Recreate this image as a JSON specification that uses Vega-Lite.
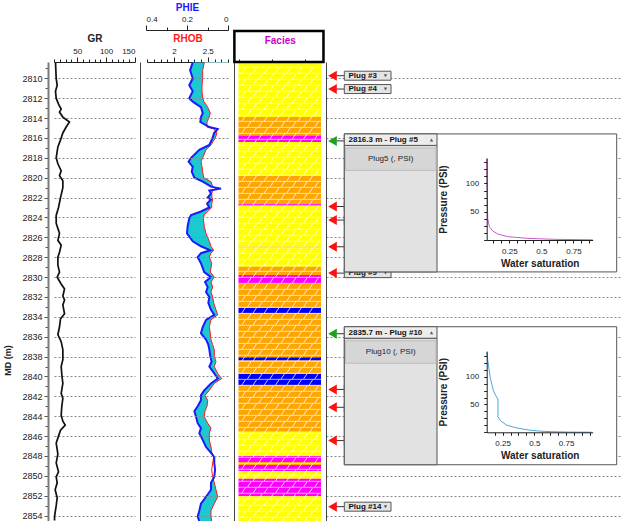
{
  "$schema": "https://vega.github.io/schema/vega-lite/v6.json",
  "background": "white",
  "padding": {"left": 3, "top": 2, "right": 0, "bottom": 0},
  "spacing": 0,
  "bounds": "flush",
  "resolve": {"scale": {"x": "independent", "y": "independent", "color": "independent"}},
  "config": {
    "view": {"stroke": null},
    "font": "Liberation Sans",
    "axis": {"labelFont": "Liberation Sans", "titleFont": "Liberation Sans", "labelColor": "#222", "titleColor": "#222", "domainColor": "#222", "tickColor": "#222", "labelFontSize": 8, "titleFontSize": 10, "titleFontWeight": "bold", "grid": false}
  },
  "datasets": {
    "gr": [
      {"depth": 2808.4, "gr": 12.6}, {"depth": 2810.0, "gr": 13.8}, {"depth": 2810.7, "gr": 15.5}, {"depth": 2811.3, "gr": 12.6},
      {"depth": 2812.0, "gr": 13.8}, {"depth": 2812.6, "gr": 17.8}, {"depth": 2813.1, "gr": 22.4}, {"depth": 2813.4, "gr": 19.5},
      {"depth": 2813.9, "gr": 25.3}, {"depth": 2814.4, "gr": 36.7}, {"depth": 2814.9, "gr": 31.0}, {"depth": 2815.5, "gr": 25.3},
      {"depth": 2816.2, "gr": 21.3}, {"depth": 2816.9, "gr": 16.7}, {"depth": 2818.0, "gr": 13.8}, {"depth": 2818.6, "gr": 16.7},
      {"depth": 2819.3, "gr": 22.4}, {"depth": 2819.8, "gr": 19.5}, {"depth": 2820.3, "gr": 25.3}, {"depth": 2821.0, "gr": 25.3},
      {"depth": 2822.0, "gr": 21.3}, {"depth": 2823.0, "gr": 17.8}, {"depth": 2823.8, "gr": 13.8}, {"depth": 2824.6, "gr": 13.8},
      {"depth": 2825.3, "gr": 17.8}, {"depth": 2825.6, "gr": 19.5}, {"depth": 2826.3, "gr": 16.7}, {"depth": 2826.8, "gr": 22.4},
      {"depth": 2827.5, "gr": 19.5}, {"depth": 2828.0, "gr": 16.7}, {"depth": 2828.8, "gr": 16.7}, {"depth": 2829.5, "gr": 19.5},
      {"depth": 2830.0, "gr": 15.5}, {"depth": 2830.7, "gr": 22.4}, {"depth": 2831.2, "gr": 28.2}, {"depth": 2831.9, "gr": 25.3},
      {"depth": 2832.3, "gr": 28.2}, {"depth": 2832.8, "gr": 25.3}, {"depth": 2833.7, "gr": 28.2}, {"depth": 2834.2, "gr": 21.3},
      {"depth": 2835.0, "gr": 19.5}, {"depth": 2835.8, "gr": 16.7}, {"depth": 2836.5, "gr": 22.4}, {"depth": 2837.3, "gr": 25.3},
      {"depth": 2838.3, "gr": 25.3}, {"depth": 2839.0, "gr": 22.4}, {"depth": 2839.8, "gr": 23.5}, {"depth": 2840.7, "gr": 25.3},
      {"depth": 2841.7, "gr": 22.4}, {"depth": 2842.2, "gr": 25.3}, {"depth": 2843.0, "gr": 23.5}, {"depth": 2843.9, "gr": 22.4},
      {"depth": 2844.5, "gr": 25.3}, {"depth": 2844.9, "gr": 29.4}, {"depth": 2845.4, "gr": 21.3}, {"depth": 2846.0, "gr": 17.8},
      {"depth": 2846.7, "gr": 13.8}, {"depth": 2847.8, "gr": 16.7}, {"depth": 2848.7, "gr": 13.8}, {"depth": 2849.6, "gr": 17.8},
      {"depth": 2850.1, "gr": 13.8}, {"depth": 2850.7, "gr": 15.5}, {"depth": 2851.4, "gr": 12.0}, {"depth": 2852.2, "gr": 15.5},
      {"depth": 2853.0, "gr": 13.8}, {"depth": 2854.1, "gr": 10.9}, {"depth": 2854.5, "gr": 11.0}
    ],
    "logs": [
      {"depth": 2808.4, "rhob": 2.449, "phie": 0.172}, {"depth": 2809.2, "rhob": 2.425, "phie": 0.185}, {"depth": 2810.0, "rhob": 2.425, "phie": 0.172},
      {"depth": 2810.7, "rhob": 2.415, "phie": 0.189}, {"depth": 2811.3, "rhob": 2.415, "phie": 0.172}, {"depth": 2812.0, "rhob": 2.425, "phie": 0.189},
      {"depth": 2812.35, "rhob": 2.444, "phie": 0.172}, {"depth": 2812.9, "rhob": 2.499, "phie": 0.132}, {"depth": 2813.5, "rhob": 2.538, "phie": 0.123},
      {"depth": 2813.9, "rhob": 2.523, "phie": 0.132}, {"depth": 2814.4, "rhob": 2.489, "phie": 0.135}, {"depth": 2814.9, "rhob": 2.489, "phie": 0.091},
      {"depth": 2815.1, "rhob": 2.593, "phie": 0.05}, {"depth": 2815.5, "rhob": 2.637, "phie": 0.068}, {"depth": 2816.0, "rhob": 2.612, "phie": 0.075},
      {"depth": 2816.7, "rhob": 2.548, "phie": 0.091}, {"depth": 2817.2, "rhob": 2.474, "phie": 0.14}, {"depth": 2818.0, "rhob": 2.425, "phie": 0.18},
      {"depth": 2818.4, "rhob": 2.4, "phie": 0.192}, {"depth": 2818.9, "rhob": 2.415, "phie": 0.172}, {"depth": 2819.4, "rhob": 2.425, "phie": 0.177},
      {"depth": 2820.0, "rhob": 2.44, "phie": 0.164}, {"depth": 2820.4, "rhob": 2.548, "phie": 0.123}, {"depth": 2820.9, "rhob": 2.573, "phie": 0.083},
      {"depth": 2821.1, "rhob": 2.622, "phie": 0.034}, {"depth": 2821.3, "rhob": 2.573, "phie": 0.091}, {"depth": 2821.6, "rhob": 2.559, "phie": 0.083},
      {"depth": 2822.0, "rhob": 2.563, "phie": 0.099}, {"depth": 2822.2, "rhob": 2.573, "phie": 0.083}, {"depth": 2822.6, "rhob": 2.559, "phie": 0.102},
      {"depth": 2823.0, "rhob": 2.559, "phie": 0.091}, {"depth": 2823.4, "rhob": 2.499, "phie": 0.132}, {"depth": 2823.75, "rhob": 2.449, "phie": 0.18},
      {"depth": 2824.1, "rhob": 2.434, "phie": 0.189}, {"depth": 2824.9, "rhob": 2.449, "phie": 0.197}, {"depth": 2825.6, "rhob": 2.474, "phie": 0.2},
      {"depth": 2826.4, "rhob": 2.523, "phie": 0.172}, {"depth": 2826.9, "rhob": 2.548, "phie": 0.132}, {"depth": 2827.3, "rhob": 2.588, "phie": 0.086},
      {"depth": 2827.6, "rhob": 2.548, "phie": 0.132}, {"depth": 2828.0, "rhob": 2.523, "phie": 0.148}, {"depth": 2828.6, "rhob": 2.559, "phie": 0.132},
      {"depth": 2829.5, "rhob": 2.538, "phie": 0.116}, {"depth": 2830.0, "rhob": 2.597, "phie": 0.083}, {"depth": 2830.5, "rhob": 2.548, "phie": 0.112},
      {"depth": 2831.0, "rhob": 2.573, "phie": 0.099}, {"depth": 2831.5, "rhob": 2.548, "phie": 0.107}, {"depth": 2832.0, "rhob": 2.573, "phie": 0.091},
      {"depth": 2832.6, "rhob": 2.588, "phie": 0.096}, {"depth": 2833.3, "rhob": 2.622, "phie": 0.083}, {"depth": 2833.8, "rhob": 2.647, "phie": 0.067},
      {"depth": 2834.3, "rhob": 2.548, "phie": 0.107}, {"depth": 2835.0, "rhob": 2.523, "phie": 0.123}, {"depth": 2835.65, "rhob": 2.538, "phie": 0.132},
      {"depth": 2836.3, "rhob": 2.548, "phie": 0.107}, {"depth": 2836.8, "rhob": 2.573, "phie": 0.096}, {"depth": 2837.3, "rhob": 2.597, "phie": 0.091},
      {"depth": 2838.0, "rhob": 2.597, "phie": 0.086}, {"depth": 2838.5, "rhob": 2.622, "phie": 0.08}, {"depth": 2839.0, "rhob": 2.597, "phie": 0.091},
      {"depth": 2839.7, "rhob": 2.647, "phie": 0.067}, {"depth": 2840.2, "rhob": 2.707, "phie": 0.05}, {"depth": 2840.7, "rhob": 2.597, "phie": 0.083},
      {"depth": 2841.4, "rhob": 2.523, "phie": 0.116}, {"depth": 2841.9, "rhob": 2.459, "phie": 0.132}, {"depth": 2842.4, "rhob": 2.499, "phie": 0.132},
      {"depth": 2843.0, "rhob": 2.489, "phie": 0.148}, {"depth": 2843.5, "rhob": 2.459, "phie": 0.164}, {"depth": 2844.05, "rhob": 2.449, "phie": 0.156},
      {"depth": 2844.7, "rhob": 2.499, "phie": 0.148}, {"depth": 2845.2, "rhob": 2.548, "phie": 0.132}, {"depth": 2845.7, "rhob": 2.523, "phie": 0.14},
      {"depth": 2846.4, "rhob": 2.523, "phie": 0.123}, {"depth": 2847.1, "rhob": 2.548, "phie": 0.107}, {"depth": 2847.6, "rhob": 2.559, "phie": 0.086},
      {"depth": 2848.1, "rhob": 2.588, "phie": 0.067}, {"depth": 2848.7, "rhob": 2.573, "phie": 0.067}, {"depth": 2849.4, "rhob": 2.559, "phie": 0.063},
      {"depth": 2850.1, "rhob": 2.573, "phie": 0.067}, {"depth": 2850.7, "rhob": 2.597, "phie": 0.083}, {"depth": 2851.4, "rhob": 2.622, "phie": 0.083},
      {"depth": 2852.1, "rhob": 2.647, "phie": 0.107}, {"depth": 2852.8, "rhob": 2.597, "phie": 0.132}, {"depth": 2853.5, "rhob": 2.548, "phie": 0.14},
      {"depth": 2854.1, "rhob": 2.548, "phie": 0.148}, {"depth": 2854.54, "rhob": 2.559, "phie": 0.14}
    ],
    "facies": [
      {"top": 2808.36, "bottom": 2813.9, "facies": "F1"}, {"top": 2813.9, "bottom": 2815.75, "facies": "F2"},
      {"top": 2815.75, "bottom": 2816.4, "facies": "F3"}, {"top": 2816.4, "bottom": 2819.8, "facies": "F1"},
      {"top": 2819.8, "bottom": 2822.65, "facies": "F2"}, {"top": 2822.65, "bottom": 2822.85, "facies": "F3"},
      {"top": 2822.85, "bottom": 2826.95, "facies": "F1"}, {"top": 2826.95, "bottom": 2827.1, "facies": "F2"},
      {"top": 2827.1, "bottom": 2828.95, "facies": "F1"}, {"top": 2828.95, "bottom": 2829.8, "facies": "F2"},
      {"top": 2829.8, "bottom": 2830.7, "facies": "F3"}, {"top": 2830.7, "bottom": 2833.1, "facies": "F2"},
      {"top": 2833.1, "bottom": 2833.65, "facies": "F4"}, {"top": 2833.65, "bottom": 2838.1, "facies": "F2"},
      {"top": 2838.1, "bottom": 2838.4, "facies": "F4"}, {"top": 2838.4, "bottom": 2839.75, "facies": "F2"},
      {"top": 2839.75, "bottom": 2840.85, "facies": "F4"}, {"top": 2840.85, "bottom": 2845.55, "facies": "F2"},
      {"top": 2845.55, "bottom": 2848.0, "facies": "F1"}, {"top": 2848.0, "bottom": 2848.6, "facies": "F3"},
      {"top": 2848.6, "bottom": 2848.9, "facies": "F2"}, {"top": 2848.9, "bottom": 2849.5, "facies": "F3"},
      {"top": 2849.5, "bottom": 2850.3, "facies": "F1"}, {"top": 2850.3, "bottom": 2852.05, "facies": "F3"},
      {"top": 2852.05, "bottom": 2854.54, "facies": "F1"}
    ],
    "bricks": [
      {"k": 0, "b": 2808.9}, {"k": 1, "b": 2809.5}, {"k": 2, "b": 2810.11}, {"k": 3, "b": 2810.71}, {"k": 4, "b": 2811.31},
      {"k": 5, "b": 2811.92}, {"k": 6, "b": 2812.52}, {"k": 7, "b": 2813.13}, {"k": 8, "b": 2813.73}, {"k": 9, "b": 2814.33},
      {"k": 10, "b": 2814.94}, {"k": 11, "b": 2815.54}, {"k": 12, "b": 2816.14}, {"k": 13, "b": 2816.75}, {"k": 14, "b": 2817.35},
      {"k": 15, "b": 2817.95}, {"k": 16, "b": 2818.56}, {"k": 17, "b": 2819.16}, {"k": 18, "b": 2819.76}, {"k": 19, "b": 2820.37},
      {"k": 20, "b": 2820.97}, {"k": 21, "b": 2821.58}, {"k": 22, "b": 2822.18}, {"k": 23, "b": 2822.78}, {"k": 24, "b": 2823.39},
      {"k": 25, "b": 2823.99}, {"k": 26, "b": 2824.59}, {"k": 27, "b": 2825.2}, {"k": 28, "b": 2825.8}, {"k": 29, "b": 2826.4},
      {"k": 30, "b": 2827.01}, {"k": 31, "b": 2827.61}, {"k": 32, "b": 2828.22}, {"k": 33, "b": 2828.82}, {"k": 34, "b": 2829.42},
      {"k": 35, "b": 2830.03}, {"k": 36, "b": 2830.63}, {"k": 37, "b": 2831.23}, {"k": 38, "b": 2831.84}, {"k": 39, "b": 2832.44},
      {"k": 40, "b": 2833.04}, {"k": 41, "b": 2833.65}, {"k": 42, "b": 2834.25}, {"k": 43, "b": 2834.85}, {"k": 44, "b": 2835.46},
      {"k": 45, "b": 2836.06}, {"k": 46, "b": 2836.67}, {"k": 47, "b": 2837.27}, {"k": 48, "b": 2837.87}, {"k": 49, "b": 2838.48},
      {"k": 50, "b": 2839.08}, {"k": 51, "b": 2839.68}, {"k": 52, "b": 2840.29}, {"k": 53, "b": 2840.89}, {"k": 54, "b": 2841.49},
      {"k": 55, "b": 2842.1}, {"k": 56, "b": 2842.7}, {"k": 57, "b": 2843.31}, {"k": 58, "b": 2843.91}, {"k": 59, "b": 2844.51},
      {"k": 60, "b": 2845.12}, {"k": 61, "b": 2845.72}, {"k": 62, "b": 2846.32}, {"k": 63, "b": 2846.93}, {"k": 64, "b": 2847.53},
      {"k": 65, "b": 2848.13}, {"k": 66, "b": 2848.74}, {"k": 67, "b": 2849.34}, {"k": 68, "b": 2849.94}, {"k": 69, "b": 2850.55},
      {"k": 70, "b": 2851.15}, {"k": 71, "b": 2851.75}, {"k": 72, "b": 2852.36}, {"k": 73, "b": 2852.96}, {"k": 74, "b": 2853.57},
      {"k": 75, "b": 2854.17}
    ],
    "plugs": [
      {"plug": "Plug #3", "depth": 2809.74, "state": "collapsed"},
      {"plug": "Plug #4", "depth": 2811.08, "state": "collapsed"},
      {"plug": "Plug #5", "depth": 2816.3, "state": "expanded", "header": "2816.3 m - Plug #5", "button": "Plug5 (, PSI)"},
      {"plug": "Plug #6", "depth": 2822.9, "state": "collapsed"},
      {"plug": "Plug #7", "depth": 2824.26, "state": "collapsed"},
      {"plug": "Plug #8", "depth": 2826.95, "state": "collapsed"},
      {"plug": "Plug #9", "depth": 2829.6, "state": "collapsed"},
      {"plug": "Plug #10", "depth": 2835.7, "state": "expanded", "header": "2835.7 m - Plug #10", "button": "Plug10 (, PSI)"},
      {"plug": "Plug #11", "depth": 2841.3, "state": "collapsed"},
      {"plug": "Plug #12", "depth": 2843.1, "state": "collapsed"},
      {"plug": "Plug #13", "depth": 2846.45, "state": "collapsed"},
      {"plug": "Plug #14", "depth": 2853.1, "state": "collapsed"}
    ],
    "pc5": [
      {"sw": 0.073, "p": 144}, {"sw": 0.073, "p": 129}, {"sw": 0.075, "p": 100}, {"sw": 0.078, "p": 70}, {"sw": 0.081, "p": 38},
      {"sw": 0.094, "p": 23.5}, {"sw": 0.12, "p": 15.9}, {"sw": 0.16, "p": 10.6}, {"sw": 0.237, "p": 5.9}, {"sw": 0.394, "p": 2.9},
      {"sw": 0.6, "p": 1.2}, {"sw": 0.9, "p": 0.3}
    ],
    "pc10": [
      {"sw": 0.125, "p": 144}, {"sw": 0.152, "p": 99}, {"sw": 0.177, "p": 75.5}, {"sw": 0.195, "p": 66.6}, {"sw": 0.214, "p": 59},
      {"sw": 0.214, "p": 27.9}, {"sw": 0.234, "p": 20.7}, {"sw": 0.281, "p": 13}, {"sw": 0.326, "p": 10}, {"sw": 0.378, "p": 7.1},
      {"sw": 0.456, "p": 4.1}, {"sw": 0.534, "p": 2.3}, {"sw": 0.638, "p": 1.1}, {"sw": 0.769, "p": 0.4}, {"sw": 0.95, "p": 0.2}
    ]
  },
  "hconcat": [
    {
      "width": 92, "height": 459,
      "data": {"name": "gr"},
      "mark": {"type": "line", "color": "#111111", "strokeWidth": 1.7},
      "encoding": {
        "y": {"field": "depth", "type": "quantitative",
          "scale": {"domain": [2808.36, 2854.54], "reverse": true, "nice": false, "zero": false},
          "axis": {"orient": "left", "title": "MD (m)", "titleFontSize": 9, "titlePadding": 9, "titleY": 298,
            "values": [2809,2810,2811,2812,2813,2814,2815,2816,2817,2818,2819,2820,2821,2822,2823,2824,2825,2826,2827,2828,2829,2830,2831,2832,2833,2834,2835,2836,2837,2838,2839,2840,2841,2842,2843,2844,2845,2846,2847,2848,2849,2850,2851,2852,2853,2854],
            "labelExpr": "datum.value % 2 == 0 ? datum.label : ''", "format": "d", "labelFontSize": 9,
            "tickSize": {"condition": {"test": "datum.value % 2 == 0", "value": 4}, "value": 3},
            "tickColor": "#555", "domainColor": "#7a7a7a", "domainWidth": 2,
            "grid": true, "gridOpacity": {"condition": {"test": "datum.value % 2 == 0", "value": 1}, "value": 0},
            "gridDash": [2, 2], "gridColor": "#8a8a8a"}},
        "x": {"field": "gr", "type": "quantitative",
          "scale": {"domain": [10, 150], "range": [6, 87], "nice": false, "zero": false},
          "axis": {"orient": "top", "title": "GR", "values": [10,20,30,40,50,60,70,80,90,100,110,120,130,140,150],
            "labelExpr": "datum.value % 50 == 0 ? datum.label : ''",
            "tickSize": {"condition": {"test": "datum.value % 50 == 0", "value": 5}, "value": 3}, "titlePadding": 4}},
        "order": {"field": "depth", "type": "quantitative"}
      }
    },
    {
      "width": 94, "height": 459,
      "data": {"name": "logs"},
      "resolve": {"scale": {"x": "independent"}},
      "encoding": {
        "y": {"field": "depth", "type": "quantitative",
          "scale": {"domain": [2808.36, 2854.54], "reverse": true, "nice": false, "zero": false},
          "axis": {"title": null, "labels": false, "ticks": false, "domainColor": "#444", "zindex": 1, "grid": true,
            "values": [2810,2812,2814,2816,2818,2820,2822,2824,2826,2828,2830,2832,2834,2836,2838,2840,2842,2844,2846,2848,2850,2852,2854],
            "gridDash": [2, 2], "gridColor": "#8a8a8a"}}
      },
      "layer": [
        {
          "mark": {"type": "area", "orient": "horizontal", "color": "#1cc9d1"},
          "encoding": {
            "x": {"field": "phie", "type": "quantitative", "scale": {"domain": [0, 0.4], "reverse": true, "range": [6, 88], "nice": false, "zero": false}, "axis": null},
            "x2": {"datum": 0}
          }
        },
        {
          "mark": {"type": "area", "orient": "horizontal", "color": "#ffffff"},
          "encoding": {
            "x": {"field": "rhob", "type": "quantitative", "scale": {"domain": [1.6, 2.8], "range": [7, 88], "nice": false, "zero": false}, "axis": null},
            "x2": {"datum": 2.8}
          }
        },
        {
          "mark": {"type": "line", "color": "#ff1a1a", "strokeWidth": 1},
          "encoding": {
            "x": {"field": "rhob", "type": "quantitative", "scale": {"domain": [1.6, 2.8], "range": [7, 88], "nice": false, "zero": false},
              "axis": {"orient": "top", "title": "RHOB", "titleColor": "#ff1a1a", "values": [1.6,1.7,1.8,1.9,2,2.1,2.2,2.3,2.4,2.5,2.6,2.7,2.8],
                "format": "~g", "labelExpr": "datum.value == 2 || datum.value == 2.5 ? datum.label : ''",
                "tickSize": {"condition": {"test": "datum.value == 2 || datum.value == 2.5", "value": 5}, "value": 3}, "titlePadding": 4}},
            "order": {"field": "depth", "type": "quantitative"}
          }
        },
        {
          "mark": {"type": "line", "color": "#1a1aff", "strokeWidth": 2},
          "encoding": {
            "x": {"field": "phie", "type": "quantitative", "scale": {"domain": [0, 0.4], "reverse": true, "range": [6, 88], "nice": false, "zero": false},
              "axis": {"orient": "top", "offset": 32, "title": "PHIE", "titleColor": "#1a1aff", "values": [0, 0.1, 0.2, 0.3, 0.4],
                "format": "~g", "labelExpr": "datum.value == 0 || datum.value == 0.2 || datum.value == 0.4 ? datum.label : ''",
                "tickSize": {"condition": {"test": "datum.value == 0 || datum.value == 0.2 || datum.value == 0.4", "value": 5}, "value": 3}, "titlePadding": 3}},
            "order": {"field": "depth", "type": "quantitative"}
          }
        }
      ]
    },
    {
      "width": 92, "height": 459,
      "layer": [
        {
          "data": {"name": "facies"},
          "mark": {"type": "rect"},
          "encoding": {
            "y": {"field": "top", "type": "quantitative",
              "scale": {"domain": [2808.36, 2854.54], "reverse": true, "nice": false, "zero": false},
              "axis": {"title": null, "labels": false, "ticks": false, "domainColor": "#444", "grid": true,
                "values": [2810,2812,2814,2816,2818,2820,2822,2824,2826,2828,2830,2832,2834,2836,2838,2840,2842,2844,2846,2848,2850,2852,2854],
                "gridDash": [2, 2], "gridColor": "#8a8a8a"}},
            "y2": {"field": "bottom"},
            "x": {"datum": 31, "type": "quantitative", "scale": {"domain": [31, 36], "range": [4.5, 87], "nice": false, "zero": false},
              "axis": {"orient": "top", "title": "Facies", "titleColor": "#cc00cc", "values": [31,31.5,32,32.5,33,33.5,34,34.5,35,35.5,36],
                "labelExpr": "datum.value % 2 == 0 ? datum.label : ''",
                "tickSize": {"condition": {"test": "datum.value % 2 == 0", "value": 5}, "value": 3}, "titlePadding": 4}},
            "x2": {"datum": 36},
            "color": {"field": "facies", "type": "nominal", "scale": {"domain": ["F1", "F2", "F3", "F4"], "range": ["#ffff00", "#ffa500", "#ff00ff", "#0000ff"]}, "legend": null}
          }
        },
        {
          "data": {"name": "bricks"},
          "mark": {"type": "rule", "stroke": "#ffffff", "strokeWidth": 0.9, "opacity": 0.75},
          "encoding": {
            "y": {"field": "b", "type": "quantitative", "scale": {"domain": [2808.36, 2854.54], "reverse": true, "nice": false, "zero": false}},
            "x": {"datum": 31, "type": "quantitative"},
            "x2": {"datum": 36}
          }
        },
        {
          "data": {"name": "bricks"},
          "mark": {"type": "point", "filled": false, "stroke": "#ffffff", "strokeWidth": 0.9, "opacity": 0.85, "size": 6806, "yOffset": 3},
          "encoding": {
            "y": {"field": "b", "type": "quantitative", "scale": {"domain": [2808.36, 2854.54], "reverse": true, "nice": false, "zero": false}},
            "x": {"datum": 33.5, "type": "quantitative"},
            "shape": {"condition": {"test": "datum.k % 2 == 0", "value": "M-0.92,0.068L-0.83,-0.068M-0.648,0.068L-0.558,-0.068M-0.376,0.068L-0.286,-0.068M-0.104,0.068L-0.014,-0.068M0.168,0.068L0.258,-0.068M0.44,0.068L0.53,-0.068M0.712,0.068L0.802,-0.068"},
              "value": "M-0.784,0.068L-0.694,-0.068M-0.512,0.068L-0.422,-0.068M-0.24,0.068L-0.15,-0.068M0.032,0.068L0.122,-0.068M0.304,0.068L0.394,-0.068M0.576,0.068L0.666,-0.068M0.848,0.068L0.938,-0.068"}
          }
        },
        {
          "data": {"values": [{}]},
          "mark": {"type": "rect", "fill": "#ffffff", "fillOpacity": 0, "stroke": "#000000", "strokeWidth": 2.5, "clip": false},
          "encoding": {
            "x": {"datum": 30.75, "type": "quantitative"},
            "x2": {"datum": 36.15},
            "y": {"datum": 2805.25, "type": "quantitative", "scale": {"domain": [2808.36, 2854.54], "reverse": true, "nice": false, "zero": false}},
            "y2": {"datum": 2808.36}
          }
        }
      ]
    },
    {
      "width": 296, "height": 459,
      "resolve": {"scale": {"x": "independent", "y": "independent"}},
      "layer": [
        {
          "data": {"name": "plugs"},
          "encoding": {
            "y": {"field": "depth", "type": "quantitative",
              "scale": {"domain": [2808.36, 2854.54], "reverse": true, "nice": false, "zero": false},
              "axis": {"title": null, "labels": false, "ticks": false, "domainColor": "#444", "grid": true,
                "values": [2810,2812,2814,2816,2818,2820,2822,2824,2826,2828,2830,2832,2834,2836,2838,2840,2842,2844,2846,2848,2850,2852,2854],
                "gridDash": [2, 2], "gridColor": "#8a8a8a"}}
          },
          "layer": [
            {
              "mark": {"type": "rule", "color": "#333333", "strokeWidth": 1},
              "encoding": {
                "x": {"datum": 10, "type": "quantitative", "scale": {"domain": [0, 296], "nice": false, "zero": false}, "axis": null},
                "x2": {"datum": 18.3}
              }
            },
            {
              "transform": [{"filter": "datum.state == 'collapsed'"}],
              "mark": {"type": "point", "shape": "triangle-left", "filled": true, "size": 100, "opacity": 1, "color": "#ff1010"},
              "encoding": {"x": {"datum": 6.5, "type": "quantitative"}}
            },
            {
              "transform": [{"filter": "datum.state == 'expanded'"}],
              "mark": {"type": "point", "shape": "triangle-left", "filled": true, "size": 100, "opacity": 1, "color": "#1fa01f"},
              "encoding": {"x": {"datum": 6.5, "type": "quantitative"}}
            },
            {
              "transform": [{"filter": "datum.state == 'collapsed'"}],
              "mark": {"type": "rect", "fill": "#e4e4e4", "stroke": "#555555", "strokeWidth": 1, "yOffset": -4.5, "y2Offset": 4.5},
              "encoding": {"x": {"datum": 18.3, "type": "quantitative"}, "x2": {"datum": 65}, "y2": {"field": "depth"}}
            },
            {
              "transform": [{"filter": "datum.state == 'collapsed'"}],
              "mark": {"type": "text", "align": "left", "baseline": "middle", "fontSize": 8, "fontWeight": "bold", "color": "#111111"},
              "encoding": {"x": {"datum": 22.5, "type": "quantitative"}, "text": {"field": "plug"}}
            },
            {
              "transform": [{"filter": "datum.state == 'collapsed'"}],
              "mark": {"type": "point", "shape": "triangle-down", "filled": true, "size": 12, "color": "#222222"},
              "encoding": {"x": {"datum": 59.5, "type": "quantitative"}}
            },
            {
              "transform": [{"filter": "datum.state == 'expanded'"}],
              "mark": {"type": "rect", "fill": "#ffffff", "stroke": "#555555", "strokeWidth": 1, "yOffset": -7, "y2Offset": 131},
              "encoding": {"x": {"datum": 18.3, "type": "quantitative"}, "x2": {"datum": 290.7}, "y2": {"field": "depth"}}
            },
            {
              "transform": [{"filter": "datum.state == 'expanded'"}],
              "mark": {"type": "rect", "fill": "#e2e2e2", "stroke": "#555555", "strokeWidth": 1, "yOffset": 4.5, "y2Offset": 131},
              "encoding": {"x": {"datum": 18.3, "type": "quantitative"}, "x2": {"datum": 111}, "y2": {"field": "depth"}}
            },
            {
              "transform": [{"filter": "datum.state == 'expanded'"}],
              "mark": {"type": "rect", "fill": "#ececec", "stroke": "#555555", "strokeWidth": 1, "yOffset": -7, "y2Offset": 4.5},
              "encoding": {"x": {"datum": 18.3, "type": "quantitative"}, "x2": {"datum": 111}, "y2": {"field": "depth"}}
            },
            {
              "transform": [{"filter": "datum.state == 'expanded'"}],
              "mark": {"type": "rect", "fill": "#d6d6d6", "stroke": "#bdbdbd", "strokeWidth": 1, "yOffset": 7, "y2Offset": 29.5},
              "encoding": {"x": {"datum": 19.5, "type": "quantitative"}, "x2": {"datum": 110}, "y2": {"field": "depth"}}
            },
            {
              "transform": [{"filter": "datum.state == 'expanded'"}],
              "mark": {"type": "text", "align": "left", "baseline": "middle", "fontSize": 8, "fontWeight": "bold", "color": "#111111", "yOffset": -1},
              "encoding": {"x": {"datum": 22.5, "type": "quantitative"}, "text": {"field": "header"}}
            },
            {
              "transform": [{"filter": "datum.state == 'expanded'"}],
              "mark": {"type": "point", "shape": "triangle-up", "filled": true, "size": 12, "color": "#222222", "yOffset": -1},
              "encoding": {"x": {"datum": 105.5, "type": "quantitative"}}
            },
            {
              "transform": [{"filter": "datum.state == 'expanded'"}],
              "mark": {"type": "text", "align": "center", "baseline": "middle", "fontSize": 8, "color": "#222222", "yOffset": 18.5},
              "encoding": {"x": {"datum": 64.7, "type": "quantitative"}, "text": {"field": "button"}}
            }
          ]
        },
        {
          "data": {"name": "pc5"},
          "mark": {"type": "line", "color": "#c85ec8", "strokeWidth": 1},
          "encoding": {
            "x": {"field": "sw", "type": "quantitative", "title": "Water saturation",
              "scale": {"domain": [0.073, 0.9], "range": [160.7, 266.7], "nice": false, "zero": false},
              "axis": {"orient": "bottom", "offset": -281, "zindex": 2, "values": [0.125,0.1875,0.25,0.3125,0.375,0.4375,0.5,0.5625,0.625,0.6875,0.75,0.8125,0.875],
                "format": "~g", "labelExpr": "datum.value == 0.25 || datum.value == 0.5 || datum.value == 0.75 ? datum.label : ''",
                "tickSize": 3, "labelPadding": 4, "titlePadding": 3}},
            "y": {"field": "p", "type": "quantitative", "title": "Pressure (PSI)",
              "scale": {"domain": [0, 145], "range": [178, 96], "nice": false, "zero": false},
              "axis": {"orient": "left", "offset": -160.7, "zindex": 2, "values": [0,12.5,25,37.5,50,62.5,75,87.5,100,112.5,125,137.5],
                "labelExpr": "datum.value == 50 || datum.value == 100 ? datum.label : ''", "tickSize": 3, "labelPadding": 5, "titlePadding": 17}},
            "order": {"field": "p", "type": "quantitative", "sort": "descending"}
          }
        },
        {
          "data": {"name": "pc10"},
          "mark": {"type": "line", "color": "#4aa6dc", "strokeWidth": 1},
          "encoding": {
            "x": {"field": "sw", "type": "quantitative", "title": "Water saturation",
              "scale": {"domain": [0.125, 0.96], "range": [160.7, 266.7], "nice": false, "zero": false},
              "axis": {"orient": "bottom", "offset": -88.7, "zindex": 2, "values": [0.1875,0.25,0.3125,0.375,0.4375,0.5,0.5625,0.625,0.6875,0.75,0.8125,0.875,0.9375],
                "format": "~g", "labelExpr": "datum.value == 0.25 || datum.value == 0.5 || datum.value == 0.75 ? datum.label : ''",
                "tickSize": 3, "labelPadding": 4, "titlePadding": 3}},
            "y": {"field": "p", "type": "quantitative", "title": "Pressure (PSI)",
              "scale": {"domain": [0, 146], "range": [370.3, 289.1], "nice": false, "zero": false},
              "axis": {"orient": "left", "offset": -160.7, "zindex": 2, "values": [0,12.5,25,37.5,50,62.5,75,87.5,100,112.5,125,137.5],
                "labelExpr": "datum.value == 50 || datum.value == 100 ? datum.label : ''", "tickSize": 3, "labelPadding": 5, "titlePadding": 17}},
            "order": {"field": "p", "type": "quantitative", "sort": "descending"}
          }
        }
      ]
    }
  ]
}
